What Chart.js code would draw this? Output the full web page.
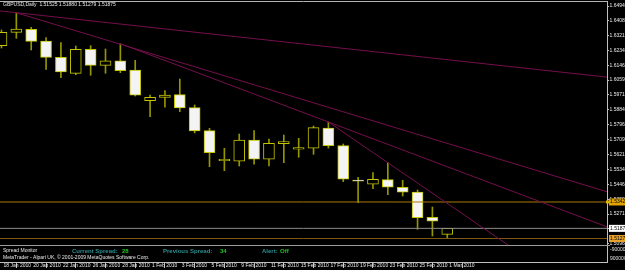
<!DOCTYPE html>
<html>
<head>
<meta charset="utf-8">
<script src="https://cdn.jsdelivr.net/npm/chart.js@4/dist/chart.umd.min.js"></script>
<style>
  body { margin: 0; background: #000; }
  canvas { display: block; }
</style>
</head>
<body>
<canvas id="priceChart" width="625" height="270"></canvas>
<script>
// GBPUSD daily candles, 18 Jan 2010 - 1 Mar 2010
const symbolTitle = 'GBPUSD,Daily';
const dates = ['18 Jan 2010', '19 Jan 2010', '20 Jan 2010', '21 Jan 2010', '22 Jan 2010',
  '25 Jan 2010', '26 Jan 2010', '27 Jan 2010', '28 Jan 2010', '29 Jan 2010',
  '1 Feb 2010', '2 Feb 2010', '3 Feb 2010', '4 Feb 2010', '5 Feb 2010',
  '8 Feb 2010', '9 Feb 2010', '10 Feb 2010', '11 Feb 2010', '12 Feb 2010',
  '15 Feb 2010', '16 Feb 2010', '17 Feb 2010', '18 Feb 2010', '19 Feb 2010',
  '22 Feb 2010', '23 Feb 2010', '24 Feb 2010', '25 Feb 2010', '26 Feb 2010',
  '1 Mar 2010'];
const opens = [1.62608, 1.63395, 1.63571, 1.62884, 1.61926, 1.60986, 1.62396, 1.61456, 1.61726, 1.61180,
  1.59376, 1.59576, 1.59729, 1.58965, 1.57614, 1.55851, 1.55816, 1.57067, 1.55934, 1.56850,
  1.56521, 1.56580, 1.57772, 1.56733, 1.54717, 1.54465, 1.54735, 1.54289, 1.54012, 1.52526, 1.51525];
const highs = [1.63530, 1.64546, 1.63689, 1.63078, 1.62784, 1.62590, 1.62608, 1.62414, 1.62725, 1.61750,
  1.59711, 1.59964, 1.60651, 1.59124, 1.57755, 1.56580, 1.57420, 1.57614, 1.57126, 1.57361,
  1.57167, 1.57890, 1.58125, 1.56832, 1.54876, 1.55146, 1.55734, 1.54700, 1.54130, 1.53131, 1.51880];
const lows = [1.62472, 1.63042, 1.62355, 1.61221, 1.60728, 1.60904, 1.60869, 1.60986, 1.61021, 1.59652,
  1.58436, 1.58989, 1.58730, 1.57479, 1.55499, 1.55264, 1.55540, 1.55640, 1.55540, 1.55734,
  1.56051, 1.56227, 1.56597, 1.54618, 1.53384, 1.54206, 1.53854, 1.53777, 1.51821, 1.51427, 1.51279];
const closes = [1.63395, 1.63589, 1.62866, 1.61926, 1.61062, 1.62396, 1.61456, 1.61726, 1.61139, 1.59694,
  1.59576, 1.59711, 1.58947, 1.57596, 1.56321, 1.55934, 1.57067, 1.55934, 1.56874, 1.56968,
  1.56615, 1.57790, 1.56733, 1.54759, 1.54641, 1.54759, 1.54289, 1.53995, 1.52503, 1.52291, 1.51875];

// price axis labels
const priceTicks = [1.64940, 1.64080, 1.63215, 1.62340, 1.61465, 1.60590, 1.59715, 1.58840, 1.57965,
  1.57090, 1.56215, 1.55340, 1.54465, 1.53590, 1.52715, 1.51840, 1.50965];
const dateTicks = [0, 2, 4, 6, 8, 10, 12, 14, 16, 18, 20, 22, 24, 26, 28, 30];

// trend lines: two anchors (bar index, price); first one extends to the left edge too
const trendX1 = [1, 1, 8, 22];
const trendY1 = [1.64546, 1.64546, 1.62725, 1.58125];
const trendX2 = [30, 30, 22, 26];
const trendY2 = [1.61785, 1.56870, 1.58125, 1.55734];
const trendBack = [true, false, false, false];

// horizontal levels
const levelPrices = [1.53425, 1.51279];
const bidPrice = closes[closes.length - 1];

const spreadNow = 28;
const spreadPrev = 34;
const alertState = 'Off';
const subLabels = ['-9000000', '9000000'];

const xMin = -0.1, xMax = 40.75;
const yMin = 1.49899, yMax = 1.65234;
const font = 'Liberation Sans';
const trendColor = '#750f4c';
const subHeight = 17;

function trendPoints(i) {
  const slope = (trendY2[i] - trendY1[i]) / (trendX2[i] - trendX1[i]);
  const startX = trendBack[i] ? xMin : trendX1[i];
  return [
    { x: startX, y: trendY1[i] + slope * (startX - trendX1[i]) },
    { x: xMax, y: trendY1[i] + slope * (xMax - trendX1[i]) }
  ];
}

const clipSub = { left: 0, top: 0, right: 0, bottom: -subHeight };
const datasets = [];
for (let i = 0; i < trendX1.length; i++) {
  datasets.push({
    type: 'line', data: trendPoints(i), borderColor: trendColor, borderWidth: 1,
    pointRadius: 0, clip: clipSub
  });
}
datasets.push({
  type: 'line', data: [{ x: xMin, y: levelPrices[0] }, { x: xMax, y: levelPrices[0] }],
  borderColor: '#a87a08', borderWidth: 1, pointRadius: 0, clip: clipSub
});
datasets.push({
  type: 'line', data: [{ x: xMin, y: levelPrices[1] }, { x: xMax, y: levelPrices[1] }],
  borderColor: '#7c5a12', borderWidth: 1, pointRadius: 0, clip: clipSub
});
datasets.push({
  type: 'line', data: [{ x: xMin, y: bidPrice }, { x: xMax, y: bidPrice }],
  borderColor: '#8c8c8c', borderWidth: 1, pointRadius: 0, clip: clipSub
});
// candle bodies
datasets.push({
  type: 'bar',
  data: opens.map((o, i) => ({ x: i, y: [o, closes[i]] })),
  backgroundColor: opens.map((o, i) => closes[i] >= o ? '#000000' : '#f4f4f4'),
  borderColor: '#c4c400',
  borderWidth: 1,
  borderSkipped: false,
  barThickness: 11,
  grouped: false
});
// wicks
datasets.push({
  type: 'bar',
  data: lows.map((l, i) => ({ x: i, y: [l, highs[i]] })),
  backgroundColor: '#959500',
  borderWidth: 0,
  barThickness: 1,
  grouped: false
});

const mtOverlay = {
  id: 'mtOverlay',
  afterDraw(chart) {
    const ctx = chart.ctx;
    const area = chart.chartArea;
    const ys = chart.scales.y;
    ctx.save();
    ctx.lineWidth = 1;
    ctx.strokeStyle = '#b4b4b4';
    ctx.beginPath();
    ctx.moveTo(area.left, area.top + 0.5);
    ctx.lineTo(area.right, area.top + 0.5);
    ctx.stroke();

    // sub window border
    const sepY = area.bottom - subHeight + 0.5;
    ctx.strokeStyle = '#9a9a9a';
    ctx.beginPath();
    ctx.moveTo(area.left, sepY);
    ctx.lineTo(area.right + 3, sepY);
    ctx.stroke();

    // header
    ctx.textBaseline = 'middle';
    ctx.textAlign = 'left';
    ctx.fillStyle = '#e8e8e8';
    ctx.font = '5px ' + font;
    const last = opens.length - 1;
    ctx.fillText(symbolTitle + '  ' + opens[last].toFixed(5) + ' ' + highs[last].toFixed(5) + ' ' +
      lows[last].toFixed(5) + ' ' + closes[last].toFixed(5), 3, 5);

    // sub window texts
    ctx.fillText('Spread Monitor', 3, sepY + 5);
    ctx.fillText('MetaTrader - Alpari UK, \u00a9 2001-2009 MetaQuotes Software Corp.', 3, sepY + 12.5);
    ctx.font = 'bold 6px ' + font;
    ctx.fillStyle = '#2f8f8f';
    ctx.fillText('Current Spread:', 72, sepY + 6);
    ctx.fillText('Previous Spread:', 163, sepY + 6);
    ctx.fillText('Alert:', 262, sepY + 6);
    ctx.fillStyle = '#22c022';
    ctx.fillText(String(spreadNow), 122, sepY + 6);
    ctx.fillText(String(spreadPrev), 220, sepY + 6);
    ctx.fillText(alertState, 280, sepY + 6);

    ctx.font = '5px ' + font;
    ctx.fillStyle = '#e0e0e0';
    ctx.fillText(subLabels[0], area.right + 3, sepY + 4);
    ctx.fillText(subLabels[1], area.right + 3, sepY + 13);

    // price boxes on the axis
    const boxes = [
      [levelPrices[0], '#e0a400', '#000'],
      [bidPrice, '#ffffff', '#000'],
      [levelPrices[1], '#e8a028', '#000']
    ];
    boxes.forEach(b => {
      const py = ys.getPixelForValue(b[0]);
      ctx.fillStyle = b[1];
      ctx.fillRect(area.right + 2, py - 3.5, 18, 7);
      ctx.fillStyle = b[2];
      ctx.fillText(b[0].toFixed(5), area.right + 3, py);
    });
    const ly = ys.getPixelForValue(levelPrices[0]);
    ctx.fillStyle = '#e0b400';
    ctx.fillRect(area.right - 1, ly - 1.5, 3, 3);
    ctx.restore();
  }
};

new Chart(document.getElementById('priceChart'), {
  type: 'bar',
  data: { datasets: datasets },
  plugins: [mtOverlay],
  options: {
    responsive: false,
    animation: false,
    events: [],
    layout: { padding: { top: 1, left: 0, right: 0, bottom: 0 } },
    plugins: { legend: { display: false }, tooltip: { enabled: false } },
    scales: {
      x: {
        type: 'linear',
        min: xMin,
        max: xMax,
        offset: false,
        grid: { drawOnChartArea: false, color: '#c0c0c0', tickLength: 6 },
        border: { color: '#c0c0c0' },
        ticks: {
          color: '#e8e8e8',
          font: { family: font, size: 5 },
          align: 'start',
          labelOffset: 2,
          padding: -5,
          autoSkip: false,
          maxRotation: 0,
          minRotation: 0,
          callback: v => dates[v]
        },
        afterBuildTicks: s => { s.ticks = dateTicks.map(v => ({ value: v })); },
        afterFit: s => { s.height = 8; }
      },
      y: {
        position: 'right',
        min: yMin,
        max: yMax,
        grid: { drawOnChartArea: false, color: '#c0c0c0', tickLength: 2 },
        border: { color: '#c0c0c0' },
        ticks: {
          color: '#e8e8e8',
          font: { family: font, size: 5, lineHeight: 0.1 },
          padding: 0.5,
          autoSkip: false,
          callback: v => v.toFixed(5)
        },
        afterBuildTicks: s => { s.ticks = priceTicks.map(v => ({ value: v })); },
        afterFit: s => { s.width = 18; }
      }
    }
  }
});
</script>
</body>
</html>
